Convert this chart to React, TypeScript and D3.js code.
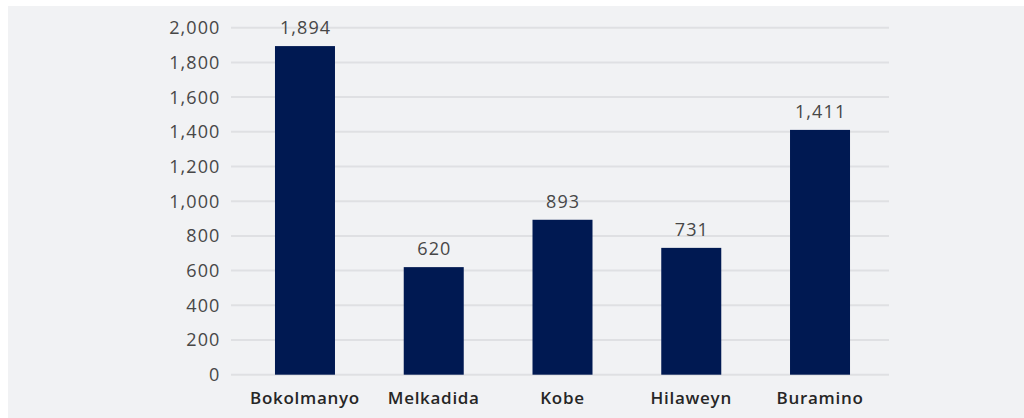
import React from "react";
import * as d3 from "d3";

const categories = ["Bokolmanyo", "Melkadida", "Kobe", "Hilaweyn", "Buramino"];
const values = [1894, 620, 893, 731, 1411];
const yTicks = [0, 200, 400, 600, 800, 1000, 1200, 1400, 1600, 1800, 2000];

const W = 1024;
const H = 418;
const FONT = "'Open Sans', 'Noto Sans', sans-serif";

export default function App() {
  const x = d3
    .scaleBand<string>()
    .domain(categories)
    .range([240.6, 884.4])
    .paddingInner(0.534)
    .paddingOuter(0.267);
  const y = d3.scaleLinear().domain([0, 2000]).range([374.7, 27.7]);
  const fmt = d3.format(",");

  return (
    <svg
      width={W}
      height={H}
      style={{ position: "absolute", left: 0, top: 0, display: "block" }}
    >
      <rect x={0} y={0} width={W} height={H} fill="#ffffff" />
      <rect x={8} y={6} width={W - 8} height={H - 6} fill="#f1f2f4" />
      {yTicks.map((t) => (
        <g key={t}>
          <line
            x1={231}
            x2={889}
            y1={y(t)}
            y2={y(t)}
            stroke="#dfe0e3"
            strokeWidth={2}
          />
          <text
            x={220.5}
            y={y(t)}
            dy="0.36em"
            textAnchor="end"
            fontFamily={FONT}
            fontSize={18}
            fontWeight={400}
            letterSpacing={1.1}
            fill="#474747"
          >
            {fmt(t)}
          </text>
        </g>
      ))}
      {categories.map((c, i) => (
        <g key={c}>
          <rect
            x={x(c)}
            y={y(values[i])}
            width={x.bandwidth()}
            height={y(0) - y(values[i])}
            fill="#001952"
          />
          <text
            x={(x(c) as number) + x.bandwidth() / 2 + 0.6}
            y={y(values[i]) - 12}
            textAnchor="middle"
            fontFamily={FONT}
            fontSize={18}
            fontWeight={400}
            letterSpacing={1.1}
            fill="#474747"
          >
            {fmt(values[i])}
          </text>
          <text
            x={(x(c) as number) + x.bandwidth() / 2}
            y={404}
            textAnchor="middle"
            fontFamily={FONT}
            fontSize={17}
            fontWeight={600}
            letterSpacing={0.7}
            fill="#262626"
          >
            {c}
          </text>
        </g>
      ))}
    </svg>
  );
}
